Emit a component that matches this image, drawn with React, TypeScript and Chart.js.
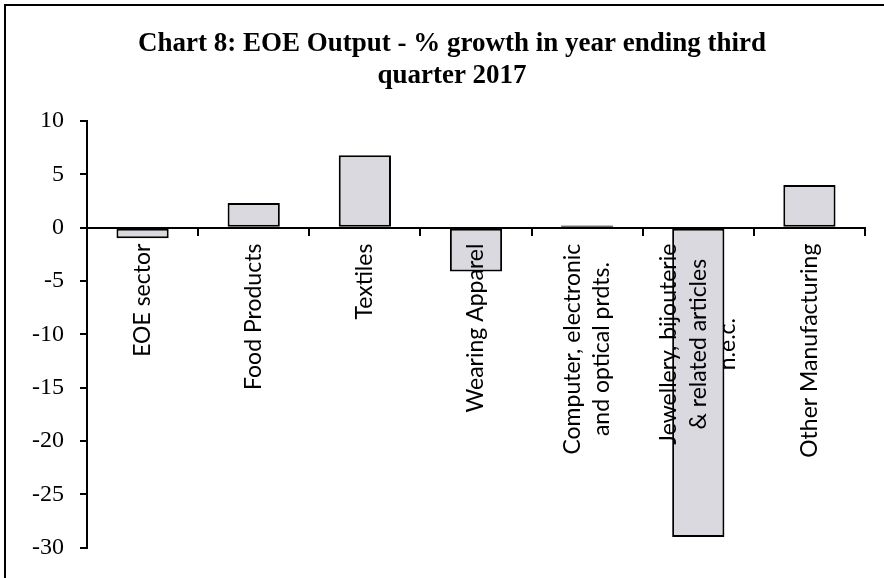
import React, { useEffect, useRef } from "react";
import { Chart, registerables } from "chart.js";

Chart.register(...registerables);

const titleLines: string[] = [
  "Chart 8: EOE Output - % growth in year ending third",
  "quarter 2017",
];

const categories: (string | string[])[] = [
  "EOE sector",
  "Food Products",
  "Textiles",
  "Wearing Apparel",
  ["Computer, electronic", "and optical prdts."],
  ["Jewellery, bijouterie", "& related articles", "n.e.c."],
  "Other Manufacturing",
];

const growth: number[] = [-1.0, 2.3, 6.8, -4.1, 0.2, -29.0, 4.0];

const yMin = -30;
const yMax = 10;
const yStep = 5;

const SERIF = "Liberation Serif";
const LABEL_FONT = "23px Lato";
const LABEL_LINE = 29.5;
const TITLE_FONT = "bold 27px Liberation Serif, serif";

export default function App() {
  const ref = useRef<HTMLCanvasElement | null>(null);

  useEffect(() => {
    document.body.style.margin = "0";
    const canvas = ref.current;
    if (!canvas) return;

    Chart.defaults.font.family = SERIF;
    Chart.defaults.color = "#000";

    const labelPlugin = {
      id: "rotatedCategoryLabels",
      afterDatasetsDraw(chart: any) {
        const ctx = chart.ctx as CanvasRenderingContext2D;
        const xs = chart.scales.x;
        const ys = chart.scales.y;
        const y0 = ys.getPixelForValue(0);
        ctx.save();
        ctx.font = LABEL_FONT;
        ctx.fillStyle = "#000";
        ctx.textAlign = "center";
        ctx.textBaseline = "middle";
        categories.forEach((c, i) => {
          const lines = Array.isArray(c) ? c : [c];
          const w = Math.max(...lines.map((l) => ctx.measureText(l).width));
          const px = xs.getPixelForTick(i);
          const cy = y0 + 16 + w / 2;
          lines.forEach((l, j) => {
            ctx.save();
            ctx.translate(px + (j - (lines.length - 1) / 2) * LABEL_LINE, cy);
            ctx.rotate(-Math.PI / 2);
            ctx.fillText(l, 0, 0);
            ctx.restore();
          });
        });
        ctx.restore();
      },
      afterDraw(chart: any) {
        const ctx = chart.ctx as CanvasRenderingContext2D;
        ctx.save();
        ctx.font = TITLE_FONT;
        ctx.fillStyle = "#000";
        ctx.textAlign = "center";
        ctx.textBaseline = "middle";
        titleLines.forEach((t, i) => {
          ctx.fillText(t, 452, 44 + i * 32);
        });
        ctx.restore();
      },
    };

    const chart = new Chart(canvas, {
      type: "bar",
      data: {
        labels: categories,
        datasets: [
          {
            data: growth,
            backgroundColor: "#d9d9df",
            borderColor: "#000",
            borderWidth: 2,
            borderSkipped: false,
            barPercentage: 0.47,
            categoryPercentage: 1,
          },
        ],
      },
      options: {
        responsive: false,
        maintainAspectRatio: false,
        animation: false,
        events: [],
        layout: { padding: { left: 0, right: 19, top: 121, bottom: 25 } },
        plugins: {
          legend: { display: false },
          title: { display: false },
          tooltip: { enabled: false },
        },
        scales: {
          x: {
            type: "category",
            position: { y: 0 } as any,
            ticks: { display: false },
            grid: {
              offset: true,
              drawOnChartArea: false,
              drawTicks: true,
              tickLength: 7,
              color: "#000",
              lineWidth: 2,
            },
            border: { display: true, color: "#000", width: 2 },
          },
          y: {
            min: yMin,
            max: yMax,
            afterFit: (s: any) => {
              s.width = 87;
            },
            ticks: {
              stepSize: yStep,
              color: "#000",
              padding: 16,
              font: { family: SERIF, size: 24, weight: "normal" },
            },
            grid: {
              drawOnChartArea: false,
              drawTicks: true,
              tickLength: 7,
              color: "#000",
              lineWidth: 2,
            },
            border: { display: true, color: "#000", width: 2 },
          },
        },
      },
      plugins: [labelPlugin],
    });

    return () => chart.destroy();
  }, []);

  return (
    <div style={{ position: "relative", width: 884, height: 578, background: "#fff", overflow: "hidden" }}>
      <div
        style={{
          position: "absolute",
          left: 4,
          top: 4,
          width: 880,
          height: 574,
          borderTop: "2px solid #000",
          borderLeft: "2px solid #000",
          boxSizing: "border-box",
        }}
      />
      <canvas
        ref={ref}
        width={884}
        height={578}
        style={{ position: "absolute", left: 0, top: 0, display: "block" }}
      />
    </div>
  );
}
